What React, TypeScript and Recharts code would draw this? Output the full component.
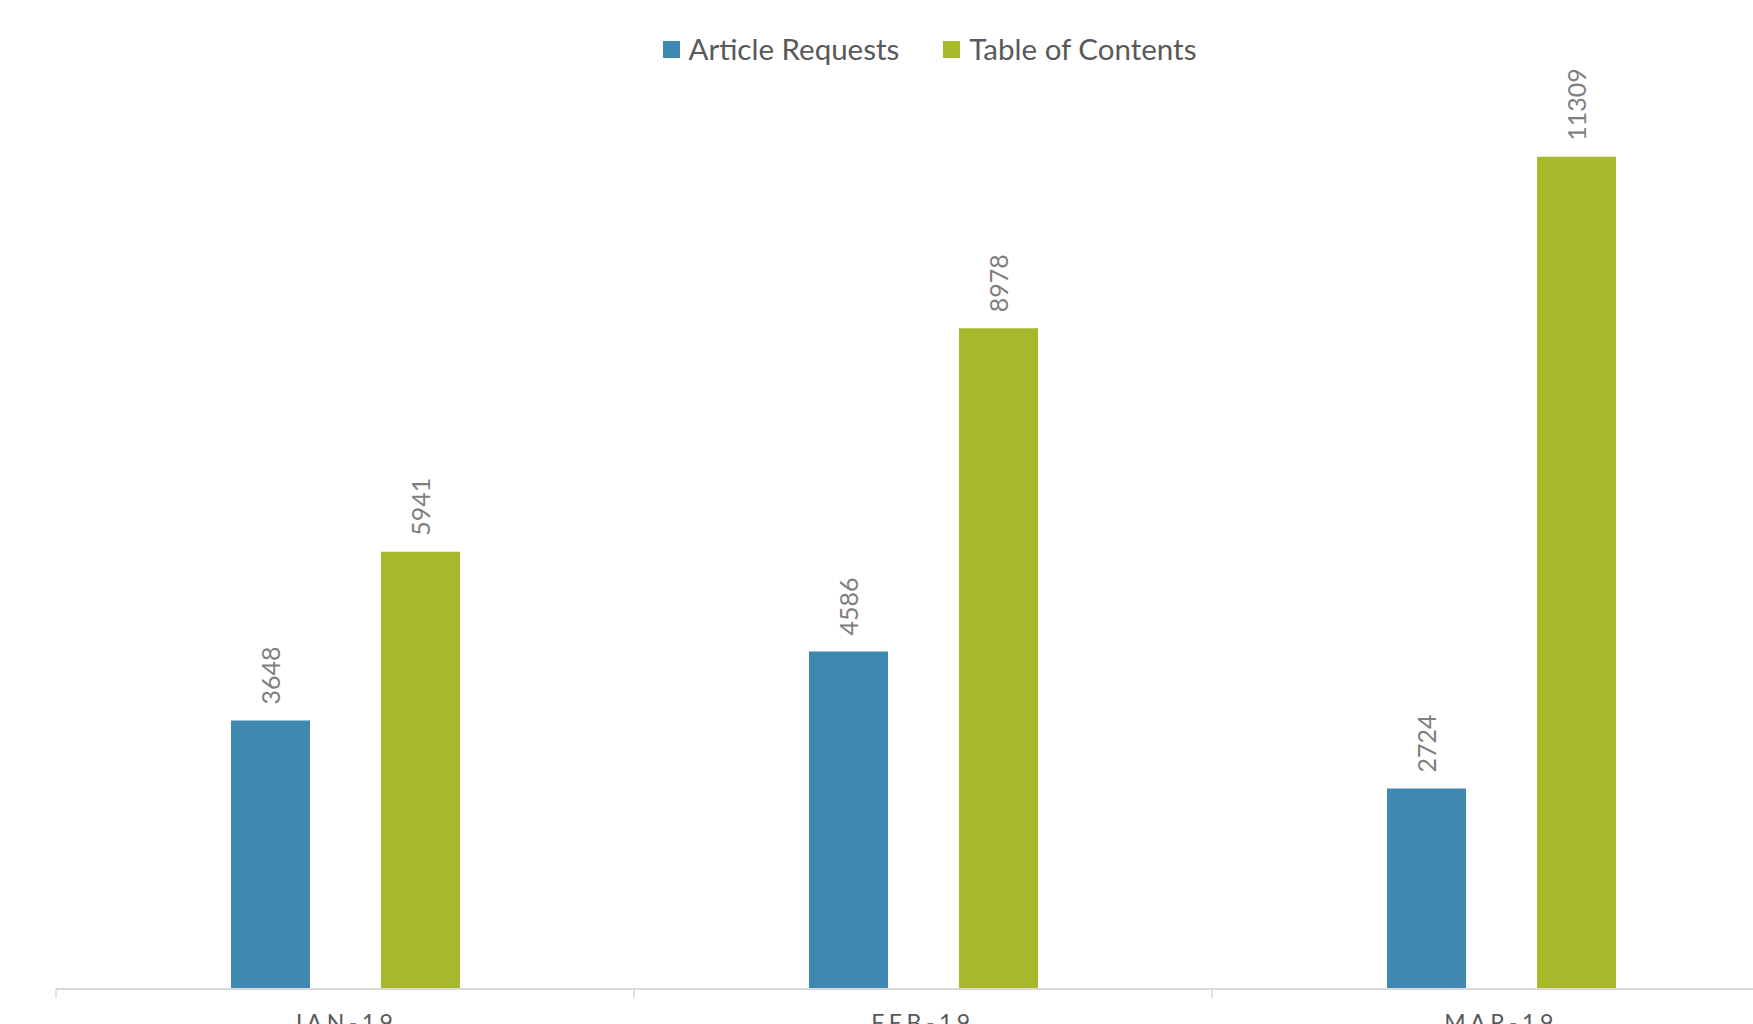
import React from "react";
import { BarChart, Bar, XAxis, YAxis, LabelList } from "recharts";

const categories = ["JAN-19", "FEB-19", "MAR-19"];
const articleRequests = [3648, 4586, 2724];
const tableOfContents = [5941, 8978, 11309];
const seriesNames = ["Article Requests", "Table of Contents"];
const seriesColors = ["#3F88B2", "#A7B82A"];

const data = categories.map((c, i) => ({
  month: c,
  ar: articleRequests[i],
  toc: tableOfContents[i],
}));

const FONT = "Lato, 'Open Sans', sans-serif";

const RotLabel = (props: any) => {
  const { x, y, width, value } = props;
  const cx = x + width / 2;
  const ty = y - 16;
  return (
    <text
      x={cx}
      y={ty}
      transform={`rotate(-90, ${cx}, ${ty})`}
      textAnchor="start"
      dominantBaseline="central"
      fill="#7F7F7F"
      fontSize={25}
      fontFamily={FONT}
    >
      {value}
    </text>
  );
};

const BAND = 578;

const Tick = (props: any) => {
  const { x, y, payload } = props;
  const lx = x - BAND / 2;
  return (
    <g>
      <line x1={lx} y1={y - 8} x2={lx} y2={y + 1} stroke="#D9D9D9" strokeWidth={1.5} />
      <text
        x={x}
        y={y + 34}
        textAnchor="middle"
        fill="#595959"
        fontSize={23}
        fontFamily={FONT}
        letterSpacing={4.5}
      >
        {payload.value}
      </text>
    </g>
  );
};

export default function App() {
  return (
    <div
      style={{
        position: "fixed",
        left: 0,
        top: 0,
        width: 1753,
        height: 1024,
        overflow: "hidden",
        background: "#fff",
      }}
    >
      <div
        style={{
          position: "absolute",
          top: 29,
          left: 0,
          width: 1753,
          display: "flex",
          justifyContent: "center",
          fontFamily: FONT,
          fontSize: 29.5,
          color: "#595959",
          lineHeight: "40px",
          paddingLeft: 106,
          boxSizing: "border-box",
        }}
      >
        {seriesNames.map((n, i) => (
          <div
            key={n}
            style={{ display: "flex", alignItems: "center", marginRight: i === 0 ? 44 : 0 }}
          >
            <span
              style={{
                display: "inline-block",
                width: 17,
                height: 17,
                background: seriesColors[i],
                marginRight: 9,
              }}
            />
            <span>{n}</span>
          </div>
        ))}
      </div>
      <div style={{ position: "absolute", left: 0, top: 0 }}>
        <BarChart
          width={1800}
          height={1100}
          data={data}
          margin={{ top: 106, right: 10, left: 56, bottom: 51 }}
          barCategoryGap={175}
          barGap={71}
        >
          <XAxis
            dataKey="month"
            axisLine={{ stroke: "#D9D9D9", strokeWidth: 2 }}
            tickLine={false}
            tick={<Tick />}
            height={60}
            interval={0}
          />
          <YAxis hide domain={[0, 12000]} />
          <Bar dataKey="ar" name={seriesNames[0]} fill={seriesColors[0]} isAnimationActive={false}>
            <LabelList dataKey="ar" content={<RotLabel />} />
          </Bar>
          <Bar dataKey="toc" name={seriesNames[1]} fill={seriesColors[1]} isAnimationActive={false}>
            <LabelList dataKey="toc" content={<RotLabel />} />
          </Bar>
        </BarChart>
      </div>
    </div>
  );
}
